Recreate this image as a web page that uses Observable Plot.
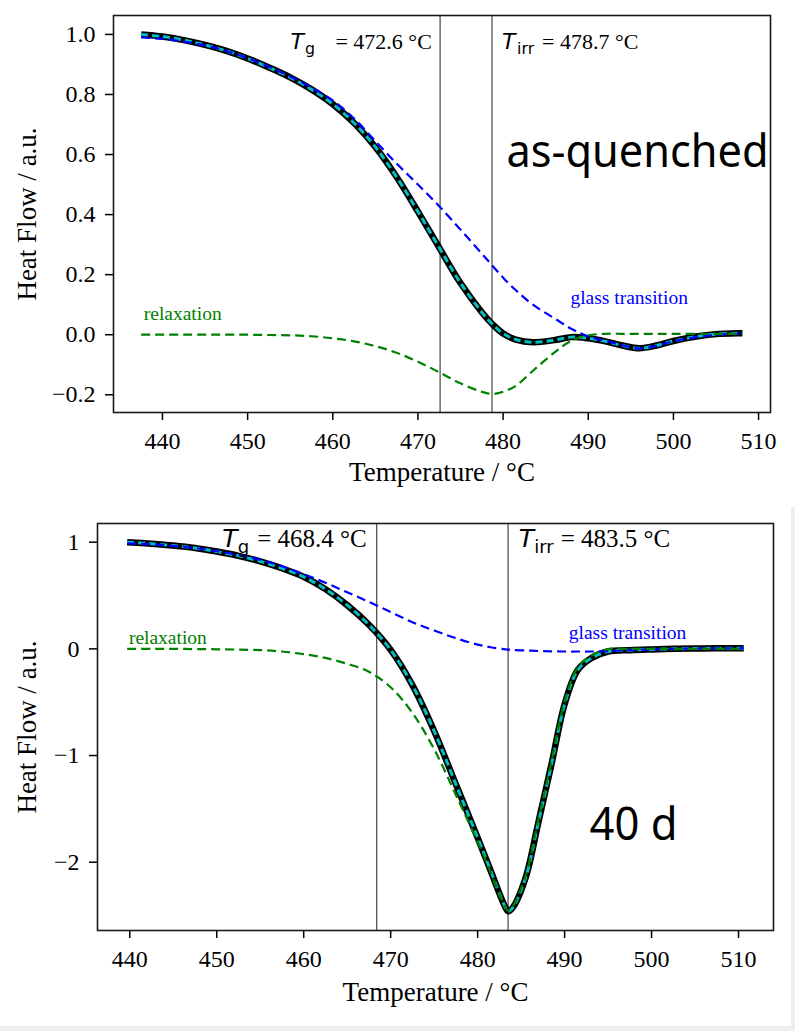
<!DOCTYPE html>
<html><head><meta charset="utf-8">
<script src="https://cdn.jsdelivr.net/npm/d3@7"></script>
<script src="https://cdn.jsdelivr.net/npm/@observablehq/plot@0.6"></script>
<style>
html,body{margin:0;padding:0;background:#fff;}
#page{position:relative;width:795px;height:1031px;background:#fff;overflow:hidden;}
#stripR{position:absolute;left:791px;top:507px;width:4px;height:524px;background:#efefef;}
#stripB{position:absolute;left:0;top:1026px;width:795px;height:5px;background:#efefef;}
#top{position:absolute;left:0;top:0;}
#bot{position:absolute;left:0;top:495px;}
</style></head><body>
<div id="page"><div id="stripR"></div><div id="stripB"></div><div id="top"></div><div id="bot"></div></div>
<script>
// ---------- data: as-quenched (top) ----------
const topT = [437.5, 440, 442.5, 445, 447.5, 450, 452.5, 455, 457.5, 460, 462.5, 465, 467.5, 470, 472.5, 475, 477.5, 478.75, 480, 481.5, 483.5, 486, 488, 490, 492, 494, 496, 498, 500, 502.5, 505, 507.5, 508.1];
const topTotal = [1.0, 0.993, 0.981, 0.965, 0.945, 0.92, 0.89, 0.857, 0.817, 0.768, 0.705, 0.625, 0.525, 0.41, 0.29, 0.172, 0.075, 0.035, 0.004, -0.016, -0.025, -0.018, -0.008, -0.012, -0.022, -0.036, -0.045, -0.036, -0.021, -0.007, 0.002, 0.005, 0.005];
const topGlass = [0.99, 0.985, 0.976, 0.963, 0.945, 0.921, 0.892, 0.86, 0.823, 0.78, 0.72, 0.645, 0.57, 0.50, 0.428, 0.35, 0.27, 0.23, 0.19, 0.148, 0.10, 0.055, 0.02, -0.006, -0.02, -0.035, -0.046, -0.037, -0.022, -0.009, 0.0, 0.003, 0.003];
const topRelax = [0, 0, 0, 0, 0, 0, -0.001, -0.002, -0.005, -0.012, -0.022, -0.038, -0.06, -0.09, -0.125, -0.162, -0.19, -0.197, -0.19, -0.17, -0.12, -0.06, -0.02, -0.002, 0.003, 0.003, 0.003, 0.003, 0.003, 0.003, 0.003, 0.003, 0.003];
const topMarkers = [472.6, 478.7];
const topMarkerText = ["= 472.6 °C", "= 478.7 °C"];
const topYTicks = [-0.2, 0.0, 0.2, 0.4, 0.6, 0.8, 1.0];

// ---------- data: 40 d (bottom) ----------
const botT = [439.7, 442.5, 445, 447.5, 450, 452.5, 455, 457.5, 460, 462.5, 465, 467.5, 470, 472.5, 475, 477.5, 480, 481.5, 483, 483.5, 484, 485.5, 487, 488.5, 490, 491.5, 493, 495, 497.5, 500, 502.5, 505, 507.5, 510.6];
const botTotal = [1.0, 0.985, 0.968, 0.945, 0.912, 0.872, 0.82, 0.755, 0.675, 0.56, 0.41, 0.225, -0.01, -0.34, -0.77, -1.27, -1.77, -2.08, -2.39, -2.46, -2.43, -2.15, -1.62, -1.08, -0.52, -0.2, -0.09, -0.025, -0.012, -0.005, 0.0, 0.003, 0.005, 0.006];
const botGlass = [0.99, 0.98, 0.965, 0.945, 0.915, 0.88, 0.835, 0.775, 0.70, 0.62, 0.53, 0.44, 0.345, 0.25, 0.172, 0.10, 0.04, 0.015, -0.003, -0.007, -0.01, -0.015, -0.02, -0.023, -0.025, -0.025, -0.025, -0.022, -0.012, -0.005, 0.0, 0.003, 0.005, 0.006];
const botRelax = [0, 0, 0, -0.002, -0.004, -0.007, -0.012, -0.025, -0.05, -0.085, -0.14, -0.215, -0.36, -0.60, -0.94, -1.37, -1.81, -2.095, -2.387, -2.453, -2.42, -2.135, -1.60, -1.057, -0.495, -0.175, -0.065, -0.003, 0, 0, 0, 0, 0, 0];
const botMarkers = [468.4, 483.5];
const botMarkerText = ["= 468.4 °C", "= 483.5 °C"];
const botYTicks = [-2, -1, 0, 1];

const xTicks = [440, 450, 460, 470, 480, 490, 500, 510];
const xLabel = "Temperature / °C";
const yLabel = "Heat Flow / a.u.";
const compLabels = ["relaxation", "glass transition"];
const sampleLabels = ["as-quenched", "40 d"];
const subs = ["g", "irr"];

const SERIF = "'Liberation Serif', 'DejaVu Serif', serif";
const MATH = "'DejaVu Sans', sans-serif";
const SANS = "'Noto Sans', 'Open Sans', sans-serif";
const CURVE = "catmull-rom";

function curves(T, total, glass, relax) {
  return [
    Plot.line(T, {x: d => d, y: total, stroke: "#000", strokeWidth: 6.5, curve: CURVE, strokeLinecap: "butt"}),
    Plot.line(T, {x: d => d, y: total, stroke: "#00bfbf", strokeWidth: 3, strokeDasharray: "7,4", curve: CURVE, strokeLinecap: "butt"}),
    Plot.line(T, {x: d => d, y: glass, stroke: "#0000ff", strokeWidth: 2.2, strokeDasharray: "9,5", curve: CURVE, strokeLinecap: "butt"}),
    Plot.line(T, {x: d => d, y: relax, stroke: "#008000", strokeWidth: 2.2, strokeDasharray: "9,5", curve: CURVE, strokeLinecap: "butt"})
  ];
}

function tLabel(x, y, sub, rest, size, subDx, restDx) {
  const p = [{x, y}];
  return [
    Plot.text(p, {x: "x", y: "y", text: () => "T", fontFamily: MATH, fontStyle: "italic", fontSize: size, textAnchor: "start", lineAnchor: "bottom", fill: "#000"}),
    Plot.text(p, {x: "x", y: "y", text: () => sub, fontFamily: MATH, fontSize: size * 0.72, dx: subDx, dy: size * 0.24, textAnchor: "start", lineAnchor: "bottom", fill: "#000"}),
    Plot.text(p, {x: "x", y: "y", text: () => rest, fontFamily: SERIF, fontSize: size, dx: restDx, textAnchor: "start", lineAnchor: "bottom", fill: "#000"})
  ];
}

function axes(yTicks, yFmt, ylabDx, xlabDy) {
  return [
    Plot.axisX({ticks: xTicks, tickFormat: d3.format("d"), tickSize: 8, tickPadding: 11, strokeWidth: 1.5, label: null}),
    Plot.axisY({ticks: yTicks, tickFormat: yFmt, tickSize: 8, tickPadding: 10, strokeWidth: 1.5, label: null}),
    Plot.text([0], {frameAnchor: "bottom", text: () => xLabel, dy: xlabDy, lineAnchor: "bottom", textAnchor: "middle", fontSize: 27, fontFamily: SERIF, fill: "#000"}),
    Plot.text([0], {frameAnchor: "left", text: () => yLabel, rotate: -90, dx: ylabDx, lineAnchor: "bottom", textAnchor: "middle", fontSize: 27, fontFamily: SERIF, fill: "#000"}),
    Plot.frame({stroke: "#1a1a1a", strokeWidth: 1.6})
  ];
}

const topPlot = Plot.plot({
  width: 795, height: 495,
  marginLeft: 113, marginRight: 25, marginTop: 15, marginBottom: 83,
  x: {domain: [434.25, 511.4]},
  y: {domain: [-0.259, 1.063]},
  style: {fontFamily: SERIF, fontSize: "24px", color: "#000", background: "#fff"},
  marks: [
    Plot.ruleX(topMarkers, {stroke: "#222", strokeWidth: 1}),
    ...curves(topT, topTotal, topGlass, topRelax),
    ...tLabel(455.03, 0.952, subs[0], topMarkerText[0], 22, 14.5, 45),
    ...tLabel(479.88, 0.952, subs[1], topMarkerText[1], 22, 15, 40),
    Plot.text([{x: 437.8, y: 0.050}], {x: "x", y: "y", text: () => compLabels[0], fill: "#008000", fontSize: 19.5, fontFamily: SERIF, textAnchor: "start", lineAnchor: "bottom"}),
    Plot.text([{x: 487.9, y: 0.103}], {x: "x", y: "y", text: () => compLabels[1], fill: "#0000ff", fontSize: 19.5, fontFamily: SERIF, textAnchor: "start", lineAnchor: "bottom"}),
    Plot.text([{x: 480.4, y: 0.560}], {x: "x", y: "y", text: () => sampleLabels[0], fill: "#000", fontSize: 46, fontFamily: SANS, textAnchor: "start", lineAnchor: "bottom"}),
    ...axes(topYTicks, d3.format(".1f"), -78, 68)
  ]
});

const botPlot = Plot.plot({
  width: 791, height: 531,
  marginLeft: 97, marginRight: 18, marginTop: 28, marginBottom: 96,
  x: {domain: [436.29, 514.02]},
  y: {domain: [-2.640, 1.175]},
  style: {fontFamily: SERIF, fontSize: "24px", color: "#000", background: "#fff"},
  marks: [
    Plot.ruleX(botMarkers, {stroke: "#222", strokeWidth: 1}),
    ...curves(botT, botTotal, botGlass, botRelax),
    ...tLabel(450.63, 0.953, subs[0], botMarkerText[0], 25, 15.5, 35),
    ...tLabel(484.73, 0.953, subs[1], botMarkerText[1], 25, 15.5, 42),
    Plot.text([{x: 439.9, y: 0.048}], {x: "x", y: "y", text: () => compLabels[0], fill: "#008000", fontSize: 19.5, fontFamily: SERIF, textAnchor: "start", lineAnchor: "bottom"}),
    Plot.text([{x: 490.48, y: 0.094}], {x: "x", y: "y", text: () => compLabels[1], fill: "#0000ff", fontSize: 19.5, fontFamily: SERIF, textAnchor: "start", lineAnchor: "bottom"}),
    Plot.text([{x: 492.86, y: -1.796}], {x: "x", y: "y", text: () => sampleLabels[1], fill: "#000", fontSize: 46, fontFamily: SANS, textAnchor: "start", lineAnchor: "bottom"}),
    ...axes(botYTicks, d3.format("d"), -62, 70)
  ]
});

document.getElementById("top").appendChild(topPlot);
document.getElementById("bot").appendChild(botPlot);

function fitText(svg, content, len) {
  d3.select(svg).selectAll("text").filter(function() { return this.textContent === content; })
    .attr("textLength", len).attr("lengthAdjust", "spacingAndGlyphs");
}
fitText(topPlot, sampleLabels[0], 262);
fitText(botPlot, sampleLabels[1], 88);
</script></body></html>
